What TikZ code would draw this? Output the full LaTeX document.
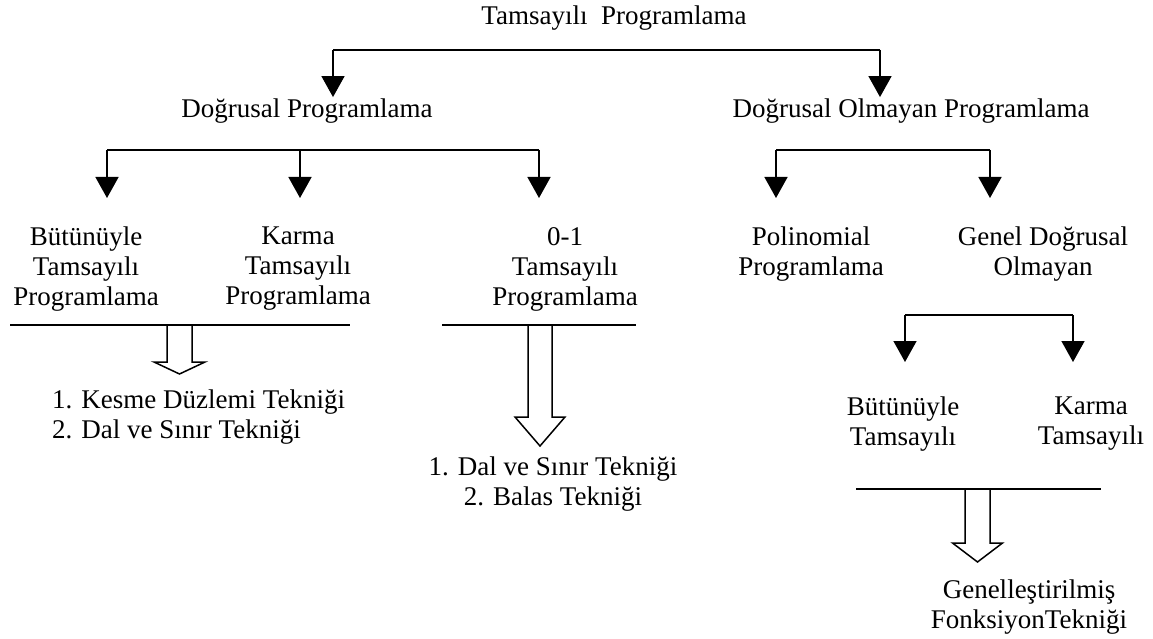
\documentclass[tikz,border=0pt]{standalone}
\usepackage{fontspec}
\setmainfont{Liberation Serif}
\usetikzlibrary{arrows.meta}
\begin{document}
\begin{tikzpicture}[x=1pt,y=-1pt,
  lbl/.style={inner sep=0pt, font=\fontsize{27}{30}\selectfont, align=center},
  ln/.style={line width=1.5pt},
  arr/.style={line width=1.5pt, -{Triangle[width=23pt,length=21pt]}},
  hollow/.style={line width=1.5pt, line join=miter}]
\useasboundingbox (0,0) rectangle (1153,639);

% texts
\node[lbl, anchor=base] (title) at (614,25) {Tamsayılı\ \ Programlama};
\node[lbl, anchor=base] (dp) at (307,118) {Doğrusal Programlama};
\node[lbl, anchor=base] (dop) at (911,118) {Doğrusal Olmayan Programlama};

\node[lbl, anchor=north] (bt) at (86,227) {Bütünüyle\\Tamsayılı\\Programlama};
\node[lbl, anchor=north] (kt) at (298,227) {Karma\\Tamsayılı\\Programlama};
\node[lbl, anchor=north] (zo) at (565,227) {0-1\\Tamsayılı\\Programlama};
\node[lbl, anchor=north] (pp) at (811,227) {Polinomial\\Programlama};
\node[lbl, anchor=north] (gd) at (1043,227) {Genel Doğrusal\\Olmayan};

\node[lbl, anchor=north] (bt2) at (903,397) {Bütünüyle\\Tamsayılı};
\node[lbl, anchor=north] (kt2) at (1091,397) {Karma\\Tamsayılı};

\node[lbl, anchor=north west, align=left] (t1) at (52,390) {1. Kesme Düzlemi Tekniği\\2. Dal ve Sınır Tekniği};
\node[lbl, anchor=north] (t2) at (553,457) {1. Dal ve Sınır Tekniği\\2. Balas Tekniği};
\node[lbl, anchor=north] (t3) at (1029,580) {Genelleştirilmiş\\FonksiyonTekniği};

% level 1 bracket
\coordinate (j1) at (333,50);
\coordinate (j2) at (880,50);
\draw[ln] (j1) -- (j2);
\draw[arr, shorten >=2pt] (j1) -- (j1 |- dp.north);
\draw[arr, shorten >=2pt] (j2) -- (j2 |- dop.north);

% level 2 bracket (Dogrusal)
\coordinate (a1) at (107,150);
\coordinate (a2) at (300,150);
\coordinate (a3) at (539,150);
\draw[ln] (a1) -- (a3);
\draw[arr, shorten >=29pt] (a1) -- (a1 |- bt.north);
\draw[arr, shorten >=29pt] (a2) -- (a2 |- kt.north);
\draw[arr, shorten >=29pt] (a3) -- (a3 |- zo.north);

% level 2 bracket (Dogrusal olmayan)
\coordinate (b1) at (776,150);
\coordinate (b2) at (990,150);
\draw[ln] (b1) -- (b2);
\draw[arr, shorten >=29pt] (b1) -- (b1 |- pp.north);
\draw[arr, shorten >=29pt] (b2) -- (b2 |- gd.north);

% level 3 bracket (Genel)
\coordinate (c1) at (905,315);
\coordinate (c2) at (1073,315);
\draw[ln] (c1) -- (c2);
\draw[arr, shorten >=35pt] (c1) -- (c1 |- bt2.north);
\draw[arr, shorten >=35pt] (c2) -- (c2 |- kt2.north);

% underlines and hollow arrows
\coordinate (u1l) at (10,325);
\coordinate (u1r) at (350,325);
\coordinate (h1) at (179.5,325);
\draw[ln] (u1l) -- (u1r);
\draw[hollow] (h1) ++(-12.5,0) -- ++(0,37) -- ++(-13,0) -- ++(25.5,12) -- ++(25.5,-12) -- ++(-13,0) -- ++(0,-37);

\coordinate (u2l) at (442,325);
\coordinate (u2r) at (636,325);
\coordinate (h2) at (540,325);
\draw[ln] (u2l) -- (u2r);
\draw[hollow] (h2) ++(-12,0) -- ++(0,92) -- ++(-13,0) -- ++(25,29) -- ++(25,-29) -- ++(-13,0) -- ++(0,-92);

\coordinate (u3l) at (856,489);
\coordinate (u3r) at (1101,489);
\coordinate (h3) at (977.5,489);
\draw[ln] (u3l) -- (u3r);
\draw[hollow] (h3) ++(-12.5,0) -- ++(0,54) -- ++(-12.5,0) -- ++(25,19) -- ++(25,-19) -- ++(-12.5,0) -- ++(0,-54);
\end{tikzpicture}
\end{document}
